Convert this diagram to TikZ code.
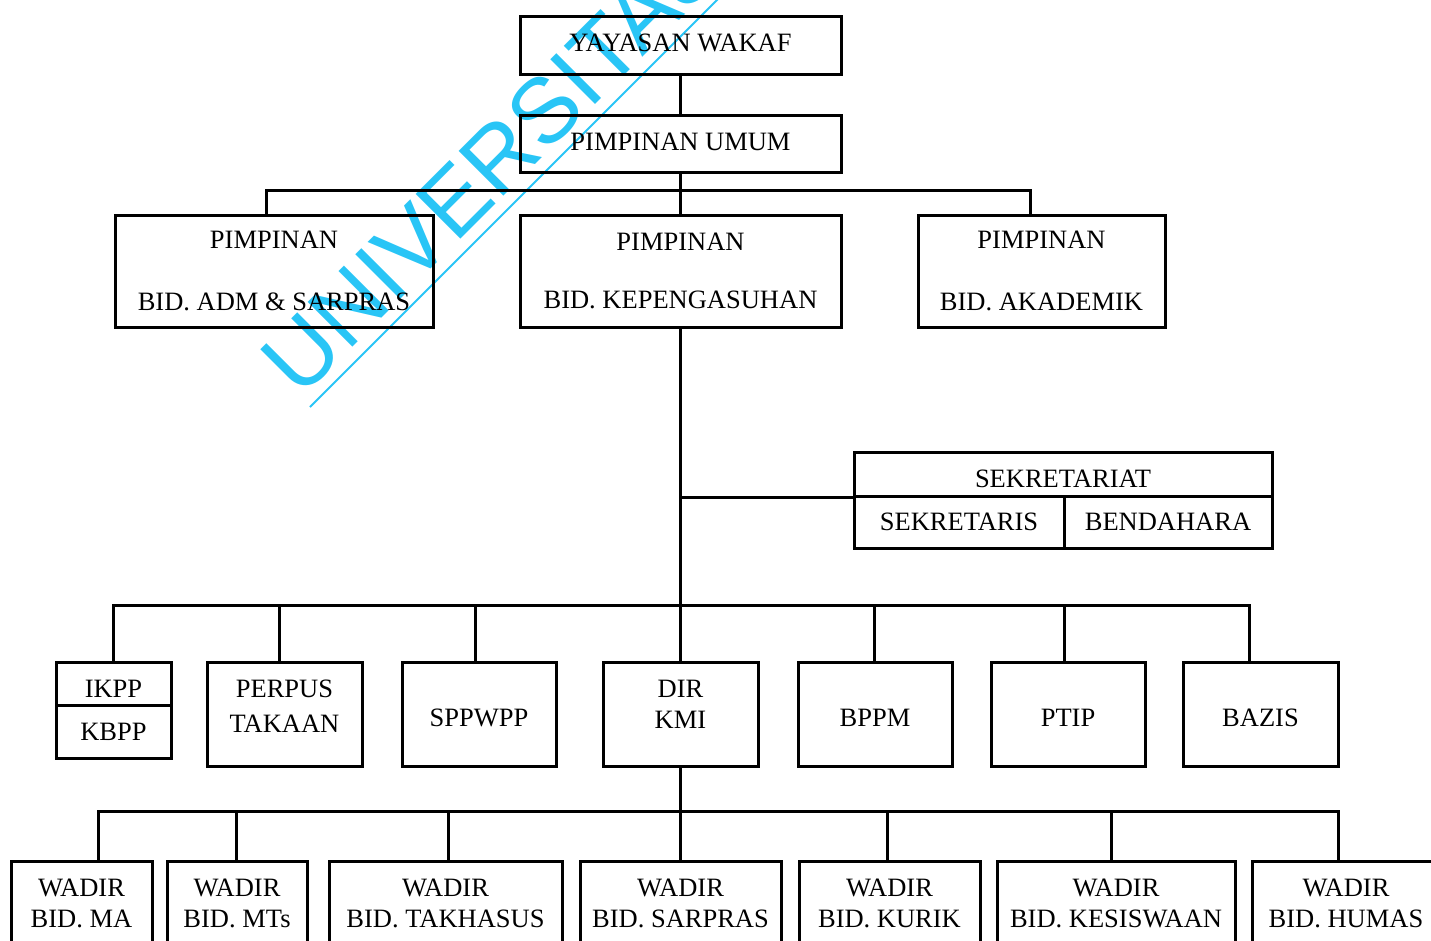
\documentclass[tikz,border=0pt]{standalone}
\usepackage{fontspec}
\setmainfont{Liberation Serif}
\newfontfamily\wmfont{Liberation Sans}
\usetikzlibrary{scopes}
\definecolor{wmcyan}{RGB}{41,197,246}
\tikzset{
    RA1/.style ={rectangle, draw, line width=3pt, align=center, inner sep=0pt, font=\fontsize{26.5}{31}\selectfont},
    DN/.style ={text height=#1},
    UP/.style ={text depth=#1},
    LN/.style ={line width=3pt},
    WM/.style ={rotate=45, anchor=base west, inner sep=0pt, text=wmcyan, font=\wmfont\fontsize{92}{92}\selectfont}}

\begin{document}
\begin{tikzpicture}[x=1pt,y=-1pt]
        \useasboundingbox (0,0) rectangle (1431,940);
        \clip (0,0) rectangle (1431,940);
        \node[RA1,UP=4pt,minimum width=321pt,minimum height=58pt] (yayasan) at (680.5,45){YAYASAN WAKAF};
        \node[RA1,UP=4pt,minimum width=321pt,minimum height=57pt] (umum) at (680.5,143.5){PIMPINAN UMUM};
        \node[RA1,minimum width=318pt,minimum height=112pt] (adm) at (274,271){PIMPINAN\\[31pt]BID. ADM \& SARPRAS};
        \node[RA1,minimum width=321pt,minimum height=112pt] (asuh) at (680.5,271){PIMPINAN\\[27pt]BID. KEPENGASUHAN};
        \node[RA1,minimum width=247pt,minimum height=112pt] (akad) at (1041.5,271){PIMPINAN\\[31pt]BID. AKADEMIK};
        \node[RA1,DN=27.5pt,minimum width=418pt,minimum height=44pt] (sekr) at (1063,474){SEKRETARIAT};
        \node[RA1,minimum width=210pt,minimum height=52pt] (sekris) at (959,522){SEKRETARIS};
        \node[RA1,minimum width=208pt,minimum height=52pt] (benda) at (1168,522){BENDAHARA};
        \node[RA1,DN=27.5pt,minimum width=115pt,minimum height=43pt] (ikpp) at (113.5,683.5){IKPP};
        \node[RA1,minimum width=115pt,minimum height=53pt] (kbpp) at (113.5,731.5){KBPP};
        \node[RA1,UP=16pt,minimum width=155pt,minimum height=104pt] (perpus) at (284.5,714){PERPUS\\[4pt]TAKAAN};
        \node[RA1,DN=25.5pt,minimum width=154pt,minimum height=104pt] (sppwpp) at (479,714){SPPWPP};
        \node[RA1,UP=20pt,minimum width=155pt,minimum height=104pt] (kmi) at (680.5,714){DIR\\KMI};
        \node[RA1,DN=25.5pt,minimum width=154pt,minimum height=104pt] (bppm) at (875,714){BPPM};
        \node[RA1,DN=25.5pt,minimum width=154pt,minimum height=104pt] (ptip) at (1068,714){PTIP};
        \node[RA1,DN=25.5pt,minimum width=155pt,minimum height=104pt] (bazis) at (1260.5,714){BAZIS};
        \node[RA1,minimum width=141pt,minimum height=84pt] (ma) at (81.5,903){WADIR\\BID. MA};
        \node[RA1,minimum width=140pt,minimum height=84pt] (mts) at (237,903){WADIR\\BID. MTs};
        \node[RA1,minimum width=233pt,minimum height=84pt] (takh) at (445.5,903){WADIR\\BID. TAKHASUS};
        \node[RA1,minimum width=201pt,minimum height=84pt] (sarpras) at (680.5,903){WADIR\\BID. SARPRAS};
        \node[RA1,minimum width=181pt,minimum height=84pt] (kurik) at (889.5,903){WADIR\\BID. KURIK};
        \node[RA1,minimum width=238pt,minimum height=84pt] (kesis) at (1116,903){WADIR\\BID. KESISWAAN};
        \node[RA1,minimum width=188pt,minimum height=84pt] (humas) at (1346,903){WADIR\\BID. HUMAS};
        \coordinate (bus1) at (680.5,190);
        \coordinate (bus2) at (680.5,605);
        \coordinate (bus3) at (680.5,811);
        {[LN]
        \draw (yayasan.south)--(umum.north);
        \draw (umum.south)--(asuh.north);
        \draw ([xshift=-8pt]adm.north) |- (bus1) -| ([xshift=-11.5pt]akad.north);
        \draw (asuh.south)--(kmi.north);
        \draw (sekr.south west)--(sekr.south west -| asuh.south);
        \draw (ikpp.north) |- (bus2) -| ([xshift=-11.5pt]bazis.north);
        \foreach \n/\s in {perpus/-5.5,sppwpp/-4,bppm/-1,ptip/-4}{
            \draw ([xshift=\s pt]\n.north)--++(0,-57);}
        \draw (kmi.south)--(sarpras.north);
        \draw ([xshift=16.5pt]ma.north) |- (bus3) -| ([xshift=-8pt]humas.north);
        \foreach \n/\s in {mts/-1,takh/2.5,kurik/-2.5,kesis/-5}{
            \draw ([xshift=\s pt]\n.north)--++(0,-50);}
        }
        \begin{scope}[blend mode=multiply]
        \node[WM] (wm) at (300,400){UNIVERSITAS};
        \draw[wmcyan,line width=2pt] (310,407)--(740,-23);
        \end{scope}
    \end{tikzpicture}
\end{document}
